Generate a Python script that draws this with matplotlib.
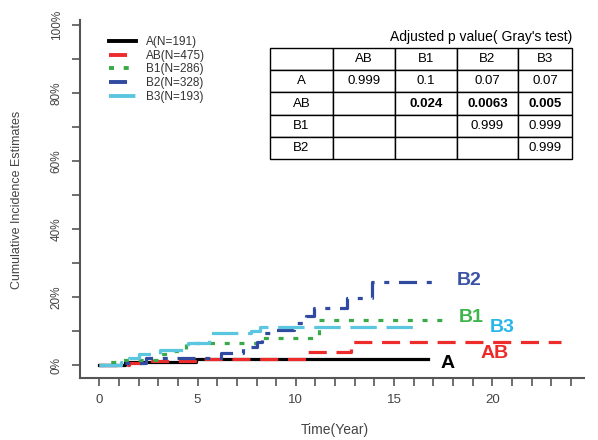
import matplotlib
matplotlib.use("Agg")
import matplotlib.pyplot as plt
from matplotlib.ticker import MultipleLocator, FuncFormatter

plt.rcParams['font.family'] = ['Liberation Sans', 'DejaVu Sans']
plt.rcParams['lines.scale_dashes'] = False

# cumulative incidence step curves (time in years, value in %)
t_a = [0, 1.3, 4.9, 16.7]
v_a = [0, 0.9, 1.9, 1.9]
t_ab = [0, 1.5, 2.7, 5.0, 10.6, 12.8, 23.5]
v_ab = [0, 0.5, 1.2, 1.9, 3.9, 6.9, 6.9]
t_b1 = [0, 0.55, 1.2, 3.1, 3.8, 4.4, 8.0, 11.2, 17.8]
v_b1 = [0, 1.0, 1.5, 3.2, 4.2, 6.6, 7.9, 13.2, 13.2]
t_b2 = [0, 1.1, 2.4, 6.2, 7.3, 8.0, 8.3, 9.0, 9.9, 10.5, 10.9, 12.6, 13.9, 17.1]
v_b2 = [0, 0.6, 2.1, 3.7, 5.4, 6.9, 9.4, 10.3, 12.5, 14.5, 16.7, 19.8, 24.5, 24.5]
t_b3 = [0, 1.1, 1.5, 2.0, 3.1, 4.5, 5.6, 7.7, 8.2, 16.0]
v_b3 = [0, 1.0, 2.0, 3.2, 4.4, 6.5, 9.4, 10.0, 11.3, 11.3]

legend_labels = ['A(N=191)', 'AB(N=475)', 'B1(N=286)', 'B2(N=328)', 'B3(N=193)']

# p value table
col_labels = ['', 'AB', 'B1', 'B2', 'B3']
row_a = ['A', '0.999', '0.1', '0.07', '0.07']
row_ab = ['AB', '', '0.024', '0.0063', '0.005']
row_b1 = ['B1', '', '', '0.999', '0.999']
row_b2 = ['B2', '', '', '', '0.999']

fig = plt.figure(figsize=(5.98, 4.40), dpi=100)
ax = fig.add_axes([80/598, 62/440, 504/598, 358/440])

lw = 2.3
ax.step(t_a, v_a, where='post', color='black', lw=lw, label=legend_labels[0])
ax.step(t_ab, v_ab, where='post', color='#EE2B2B', lw=lw,
        linestyle=(0, (13, 7)), label=legend_labels[1])
ax.step(t_b1, v_b1, where='post', color='#3AAA48', lw=lw,
        linestyle=(0, (3.6, 7)), label=legend_labels[2])
ax.step(t_b2, v_b2, where='post', color='#2F4A9E', lw=lw,
        linestyle=(0, (13, 7, 3.6, 7)), label=legend_labels[3])
ax.step(t_b3, v_b3, where='post', color='#5BC6DF', lw=lw,
        linestyle=(0, (19, 7)), label=legend_labels[4])

# curve labels
lab_kw = dict(fontsize=14, fontweight='bold', ha='center', va='center')
ax.text(18.8, 25.0, 'B2', color='#3B53A4', **lab_kw)
ax.text(18.9, 14.0, 'B1', color='#3DB54A', **lab_kw)
ax.text(20.5, 11.2, 'B3', color='#29B6EA', **lab_kw)
ax.text(20.1, 3.5, 'AB', color='#ED2A2A', **lab_kw)
ax.text(17.7, 0.6, 'A', color='black', **lab_kw)

ax.set_xlim(-0.98, 24.66)
ax.set_ylim(-3.8, 101.5)

ax.xaxis.set_major_locator(MultipleLocator(5))
ax.xaxis.set_minor_locator(MultipleLocator(1))
ax.yaxis.set_major_locator(MultipleLocator(20))
ax.yaxis.set_minor_locator(MultipleLocator(10))
ax.yaxis.set_major_formatter(FuncFormatter(lambda v, p: '%d%%' % v))
ax.tick_params(axis='both', which='both', length=5.5, width=1.2, color='#555555',
               labelcolor='#444444')
ax.tick_params(axis='x', labelsize=9.5, pad=6)
ax.tick_params(axis='y', labelsize=8.5, pad=7)
plt.setp(ax.get_yticklabels(), rotation=90, va='center')

for s in ['top', 'right']:
    ax.spines[s].set_visible(False)
for s in ['left', 'bottom']:
    ax.spines[s].set_color('#555555')
    ax.spines[s].set_linewidth(1.5)

fig.text(335/598, 1 - 430/440, 'Time(Year)', ha='center', va='center',
         fontsize=10, color='#444444')
fig.text(17/598, 1 - 200/440, 'Cumulative Incidence Estimates', ha='center',
         va='center', rotation=90, fontsize=9, color='#444444')

leg = ax.legend(loc='upper left', bbox_to_anchor=(0.045, 0.972), frameon=False,
                fontsize=8.5, handlelength=2.3, handletextpad=0.9,
                labelspacing=0.15, borderpad=0)
for line in leg.get_lines():
    line.set_linewidth(2.8)
for txt in leg.get_texts():
    txt.set_color('#333333')

cell_text = [col_labels, row_a, row_ab, row_b1, row_b2]
tab = ax.table(cellText=cell_text, cellLoc='center',
               colWidths=[63, 62, 62, 61, 54],
               bbox=[(270-80)/504, (378-159)/358, 302/504, 111/358])
tab.auto_set_font_size(False)
for (r, c), cell in tab.get_celld().items():
    cell.set_linewidth(1)
    cell.set_edgecolor('black')
    cell.get_text().set_fontsize(9.5)
    if r == 2 and c >= 2:
        cell.get_text().set_fontweight('bold')

ax.text((572-80)/504, (378-37)/358, "Adjusted p value( Gray's test)",
        transform=ax.transAxes, ha='right', va='center', fontsize=10)

fig.savefig('out.png', dpi=100)
